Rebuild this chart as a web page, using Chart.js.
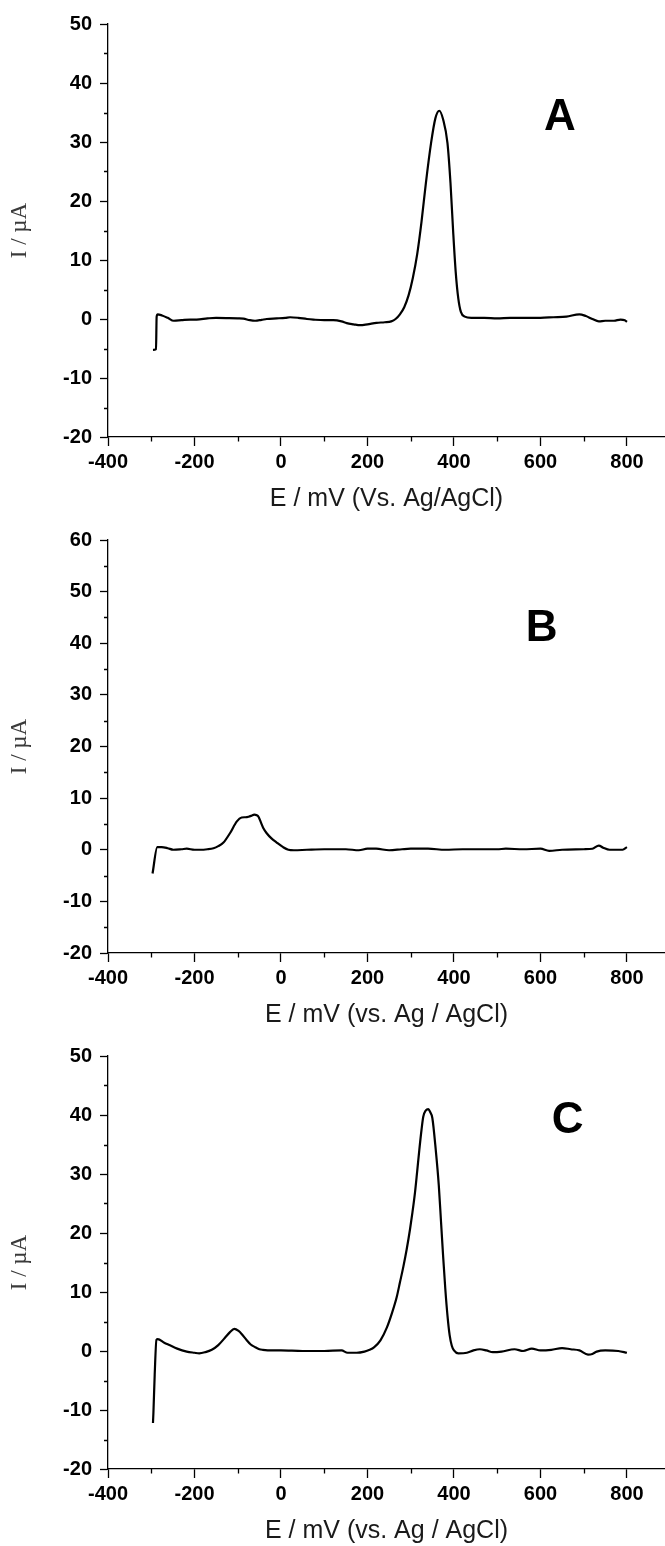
<!DOCTYPE html>
<html>
<head>
<meta charset="utf-8">
<script src="https://cdn.jsdelivr.net/npm/chart.js@4.4.1/dist/chart.umd.min.js"></script>
<style>
  html, body { margin: 0; padding: 0; background: #ffffff; }
  body { width: 665px; height: 1546px; position: relative; overflow: hidden; }
  canvas { position: absolute; left: 0; }
</style>
</head>
<body>
<canvas id="cA" width="665" height="514" style="top:0px"></canvas>
<canvas id="cB" width="665" height="516" style="top:514px"></canvas>
<canvas id="cC" width="665" height="516" style="top:1030px"></canvas>
<script>
// ---------- data ----------
const xTicks = [-400, -200, 0, 200, 400, 600, 800];
const xMinor = [-300, -100, 100, 300, 500, 700];
const yTicksA = [-20, -10, 0, 10, 20, 30, 40, 50];
const yMinorA = [-15, -5, 5, 15, 25, 35, 45];
const yTicksB = [-20, -10, 0, 10, 20, 30, 40, 50, 60];
const yMinorB = [-15, -5, 5, 15, 25, 35, 45, 55];
const yTicksC = [-20, -10, 0, 10, 20, 30, 40, 50];
const yMinorC = [-15, -5, 5, 15, 25, 35, 45];

const xA = [-296,-289,-287.5,-285,-275,-262,-248,-230,-210,-195,-170,-150,-120,-100,-87,-72,-60,-45,-33,-10,10,21,40,60,75,100,121,140,152,168,183,200,221,240,255,265,275,285,295,305,315,325,335,347,357,366,375,385,392,398,404,410,416,425,440,470,500,530,560,600,630,660,690,705,720,735,750,770,785,795,800];
const yA = [-5.25,-5.1,0.4,0.8,0.6,0.2,-0.3,-0.2,-0.1,-0.1,0.1,0.2,0.15,0.1,0.05,-0.2,-0.3,-0.15,0,0.1,0.2,0.3,0.2,0,-0.1,-0.2,-0.2,-0.4,-0.7,-0.9,-1.05,-0.9,-0.65,-0.55,-0.4,0,0.8,2,4,7,11,16.5,23,29.8,34,35.3,33.8,29.8,23,15,8,3.5,1.2,0.4,0.2,0.2,0.1,0.2,0.2,0.2,0.3,0.4,0.8,0.5,0,-0.4,-0.3,-0.3,-0.1,-0.2,-0.5];

const xB = [-297,-286,-276,-262,-249,-230,-218,-200,-187,-170,-156,-145,-133,-118,-102,-91,-82,-75,-68,-62,-56,-52,-46,-41,-33,-22,-10,5,17,30,60,100,150,180,200,220,250,280,300,340,380,420,460,500,520,560,600,620,650,700,720,735,745,760,790,800];
const yB = [-4.6,0.5,0.5,0.3,0,0.1,0.2,0,0,0.1,0.3,0.7,1.4,3.2,5.5,6.25,6.3,6.4,6.6,6.8,6.7,6.4,5.2,4.2,3.2,2.2,1.4,0.5,0,-0.1,0,0.1,0.1,-0.1,0.2,0.2,-0.1,0.1,0.2,0.2,0,0.1,0.1,0.1,0.2,0.1,0.2,-0.2,0,0.1,0.2,0.8,0.4,0,0,0.5];

const xC = [-296,-295,-292,-288,-285,-270,-258,-240,-218,-200,-189,-175,-160,-145,-130,-118,-108,-98,-91,-80,-70,-61,-50,-42,-20,0,50,100,140,154,175,193,205,215,230,245,257,267.5,275,283,290.6,298.3,304,309.8,315,319.9,325,329,335,340.6,345,350,358,365,370,375,380,385,390,395,400,410,430,445,460,475,490,510,540,560,580,600,625,650,670,690,710,720,730,750,780,800];
const yC = [-12.2,-10.5,-4,1.9,2.0,1.4,1.0,0.4,-0.1,-0.3,-0.4,-0.2,0.2,1.0,2.2,3.2,3.75,3.4,2.9,1.9,1.1,0.7,0.3,0.2,0.1,0.1,0,0,0.1,-0.3,-0.3,-0.1,0.2,0.6,1.8,4,6.5,9.1,11.6,14.3,17.2,20.6,23.5,26.8,30.5,34.1,37.5,39.7,40.8,41.0,40.5,39.5,34,28,22,16,10.5,6,2.7,0.9,0.1,-0.4,-0.3,0.1,0.3,0.1,-0.2,-0.1,0.3,0,0.4,0.1,0.2,0.5,0.3,0.1,-0.6,-0.5,-0.1,0.1,0,-0.3];

const titleA = 'E / mV (Vs. Ag/AgCl)';
const titleB = 'E / mV (vs. Ag / AgCl)';
const titleC = 'E / mV (vs. Ag / AgCl)';
const yTitle = 'I / \u00B5A';
const letterA = ['A', 645, 32.1];
const letterB = ['B', 603, 40.5];
const letterC = ['C', 663, 36.9];

// ---------- drawing ----------
const extras = {
  id: 'extras',
  afterDraw(chart) {
    const o = chart.options.plugins.extras;
    const xs = chart.scales.x, ys = chart.scales.y;
    const ctx = chart.ctx;
    ctx.save();
    ctx.strokeStyle = '#000';
    ctx.lineWidth = 1.3;
    ctx.beginPath();
    o.xMinor.forEach(v => {
      const px = Math.round(xs.getPixelForValue(v)) + 0.5;
      ctx.moveTo(px, ys.bottom);
      ctx.lineTo(px, ys.bottom + 4.5);
    });
    o.yMinor.forEach(v => {
      const py = Math.round(ys.getPixelForValue(v)) + 0.5;
      ctx.moveTo(xs.left - 4, py);
      ctx.lineTo(xs.left, py);
    });
    ctx.stroke();
    const [t, lx, ly] = o.letter;
    ctx.fillStyle = '#000';
    ctx.font = 'bold 44px "Liberation Sans", Arial, sans-serif';
    ctx.textAlign = 'center';
    ctx.textBaseline = 'alphabetic';
    ctx.fillText(t, xs.getPixelForValue(lx), ys.getPixelForValue(ly));
    ctx.restore();
  }
};

function makeChart(id, xs, ys, yTicks, yMinor, xTitle, letter, padTop) {
  const yMin = yTicks[0], yMax = yTicks[yTicks.length - 1];
  return new Chart(document.getElementById(id), {
    type: 'scatter',
    data: {
      datasets: [{
        data: xs.map((x, i) => ({ x: x, y: ys[i] })),
        showLine: true,
        borderColor: '#000',
        borderWidth: 2.2,
        pointRadius: 0,
        cubicInterpolationMode: 'monotone',
        fill: false
      }]
    },
    options: {
      responsive: false,
      animation: false,
      devicePixelRatio: 1,
      layout: { padding: { top: padTop, left: 0, right: 0, bottom: 0 } },
      plugins: {
        legend: { display: false },
        tooltip: { enabled: false },
        extras: { xMinor: xMinor, yMinor: yMinor, letter: letter }
      },
      scales: {
        x: {
          type: 'linear',
          min: -400, max: 888,
          afterBuildTicks: s => { s.ticks = xTicks.map(v => ({ value: v })); },
          afterFit: s => { s.height = 77; },
          ticks: {
            color: '#000',
            font: { family: '"Liberation Sans", Arial, sans-serif', size: 20, weight: 'bold' },
            padding: 4, maxRotation: 0, autoSkip: false
          },
          grid: { display: true, drawOnChartArea: false, drawTicks: true, tickLength: 9, tickWidth: 1.3, tickColor: '#000' },
          border: { display: true, color: '#000', width: 1.3 },
          title: {
            display: true, text: xTitle, color: '#1a1a1a',
            font: { family: '"Liberation Sans", Arial, sans-serif', size: 25, weight: 'normal' },
            padding: { top: 0, bottom: 0 }
          }
        },
        y: {
          type: 'linear',
          min: yMin, max: yMax,
          afterBuildTicks: s => { s.ticks = yTicks.map(v => ({ value: v })); },
          afterFit: s => { s.width = 108; },
          ticks: {
            color: '#000',
            font: { family: '"Liberation Sans", Arial, sans-serif', size: 20, weight: 'bold' },
            padding: 8, autoSkip: false
          },
          grid: { display: true, drawOnChartArea: false, drawTicks: true, tickLength: 8, tickWidth: 1.3, tickColor: '#000' },
          border: { display: true, color: '#000', width: 1.3 },
          title: {
            display: true, text: yTitle, color: '#3a3a3a',
            font: { family: '"Liberation Serif", "Times New Roman", serif', size: 23, weight: 'normal' },
            padding: { top: 6, bottom: 0 }
          }
        }
      }
    },
    plugins: [extras]
  });
}

makeChart('cA', xA, yA, yTicksA, yMinorA, titleA, letterA, 24);
makeChart('cB', xB, yB, yTicksB, yMinorB, titleB, letterB, 26);
makeChart('cC', xC, yC, yTicksC, yMinorC, titleC, letterC, 26);
</script>
</body>
</html>
